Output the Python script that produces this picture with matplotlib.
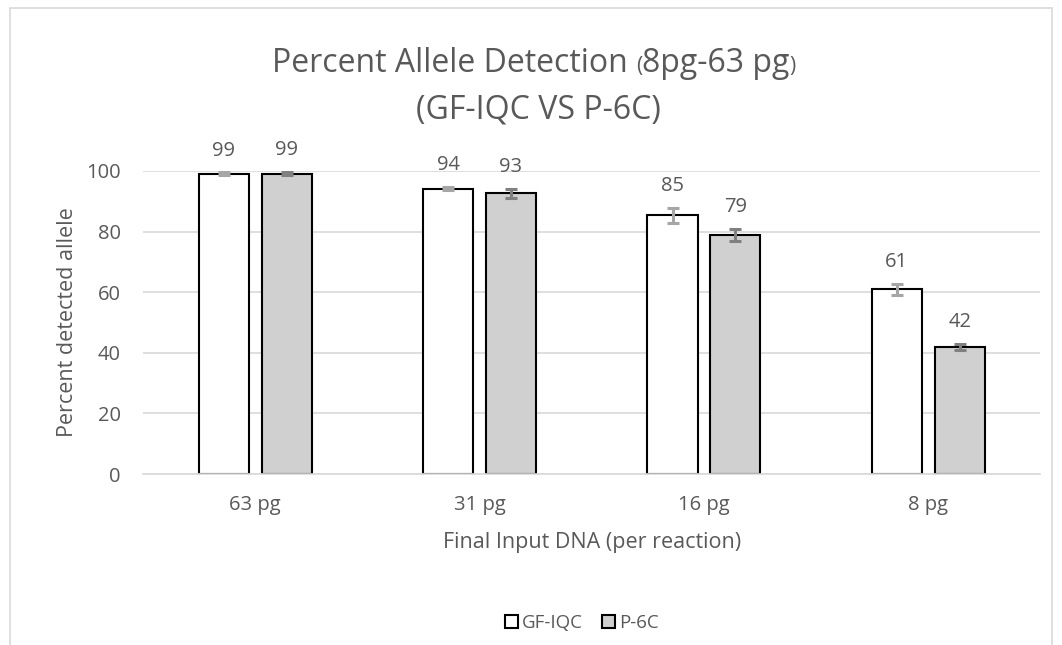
import matplotlib
matplotlib.use("Agg")
import matplotlib.pyplot as plt
import numpy as np
from matplotlib.patches import Rectangle

plt.rcParams["font.family"] = ["Open Sans", "DejaVu Sans"]

# data
categories = ["63 pg", "31 pg", "16 pg", "8 pg"]
series_names = ["GF-IQC", "P-6C"]
gf_iqc = [99.0, 94.2, 85.4, 60.9]
p_6c = [99.1, 92.7, 79.0, 42.0]
gf_iqc_err = [0.5, 0.5, 2.5, 1.8]
p_6c_err = [0.5, 1.5, 2.0, 1.0]
labels_gf = ["99", "94", "85", "61"]
labels_p6 = ["99", "93", "79", "42"]

TXT = "#595959"
GRID = "#d9d9d9"
GRAY = "#d0d0d0"

fig = plt.figure(figsize=(10.62, 6.45), dpi=100)
ax = fig.add_axes([0.1347, 0.265, 0.845, 0.47])

x = np.arange(len(categories))
w = 0.223
off = 0.140
b1 = ax.bar(x - off, gf_iqc, w, color="white", edgecolor="black", linewidth=1.5,
            label=series_names[0], zorder=2)
b2 = ax.bar(x + off, p_6c, w, color=GRAY, edgecolor="black", linewidth=1.5,
            label=series_names[1], zorder=2)
ax.errorbar(x - off, gf_iqc, yerr=gf_iqc_err, fmt="none", ecolor="#a6a6a6",
            elinewidth=2.2, capsize=4.3, capthick=2.2, zorder=3)
ax.errorbar(x + off, p_6c, yerr=p_6c_err, fmt="none", ecolor="#808080",
            elinewidth=2.2, capsize=4.3, capthick=2.2, zorder=3)

# value labels above the error bars
for xs, vals, errs, labs in [(x - off, gf_iqc, gf_iqc_err, labels_gf),
                             (x + off, p_6c, p_6c_err, labels_p6)]:
    for xi, v, e, s in zip(xs, vals, errs, labs):
        ax.annotate(s, (xi, v + e), xytext=(0, 8.5), textcoords="offset points",
                    ha="center", va="bottom", fontsize=14.5, color=TXT)

ax.set_xlim(-0.5, len(categories) - 0.5)
ax.set_ylim(0, 100)
ax.set_yticks(range(0, 101, 20))
ax.set_xticks(x)
ax.set_xticklabels(categories)
ax.tick_params(length=0, labelsize=14.5, colors=TXT)
ax.tick_params(axis="x", pad=15)
ax.tick_params(axis="y", pad=16)
ax.grid(axis="y", color=GRID, linewidth=1.2, zorder=0)
ax.set_axisbelow(True)
for sp in ["top", "right", "left"]:
    ax.spines[sp].set_visible(False)
ax.spines["bottom"].set_color(GRID)
ax.spines["bottom"].set_linewidth(1.2)
ax.set_xlabel("Final Input DNA (per reaction)", fontsize=15.5, color=TXT, labelpad=12)
ax.set_ylabel("Percent detected allele", fontsize=15.5, color=TXT, labelpad=6)
ax.patch.set_alpha(0)

# title, line 1 with smaller parentheses around the range
y1 = 0.888
t1 = fig.text(0.256, y1, "Percent Allele Detection ", fontsize=23, color=TXT,
              va="baseline", ha="left")
p1 = fig.text(0, 0, "(", fontsize=15, color=TXT, va="baseline", ha="left")
p2 = fig.text(0, 0, "8pg-63 pg", fontsize=23, color=TXT, va="baseline", ha="left")
p3 = fig.text(0, 0, ")", fontsize=15, color=TXT, va="baseline", ha="left")
renderer = fig.canvas.get_renderer()
inv = fig.transFigure.inverted()
prev = t1
for piece in [p1, p2, p3]:
    bb = prev.get_window_extent(renderer)
    xe = inv.transform((bb.x1, 0))[0]
    piece.set_position((xe, y1))
    prev = piece
fig.text(0.507, 0.817, "(GF-IQC VS P-6C)", fontsize=23, color=TXT,
         ha="center", va="baseline")

fig.legend(handles=[b1, b2], labels=series_names, loc="center",
           bbox_to_anchor=(0.548, 0.034), ncol=2, frameon=False, fontsize=13.5,
           labelcolor=TXT, handlelength=0.7, handleheight=0.7,
           handletextpad=0.2, columnspacing=1.0)

fig.patches.append(Rectangle((10 / 1062, -0.01), 1042 / 1062, 1 - 8 / 645 + 0.01,
                             transform=fig.transFigure, fill=False,
                             edgecolor=GRID, linewidth=1.2))

fig.savefig("out.png", dpi=100)
